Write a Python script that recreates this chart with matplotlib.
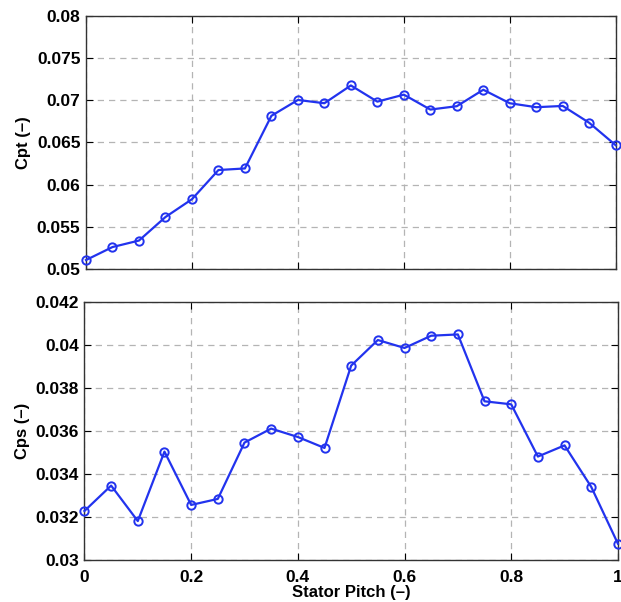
import matplotlib
matplotlib.use('Agg')
import matplotlib.pyplot as plt
import numpy as np

# stator pitch positions and the two pressure coefficients
pitch = [0.0, 0.05, 0.1, 0.15, 0.2, 0.25, 0.3, 0.35, 0.4, 0.45, 0.5,
         0.55, 0.6, 0.65, 0.7, 0.75, 0.8, 0.85, 0.9, 0.95, 1.0]
cpt = [0.05106, 0.0526, 0.05337, 0.05616, 0.05827, 0.06173, 0.06192,
       0.06816, 0.07004, 0.06965, 0.07176, 0.06984, 0.07067, 0.0689,
       0.0693, 0.07125, 0.06965, 0.06918, 0.06933, 0.06733, 0.06467]
cps = [0.03228, 0.03346, 0.03181, 0.03504, 0.03256, 0.03284, 0.03546,
       0.03611, 0.03572, 0.03521, 0.03904, 0.04023, 0.03986, 0.04043,
       0.04049, 0.03738, 0.03724, 0.03481, 0.03533, 0.0334, 0.03076]

cpt_ticks = [0.05, 0.055, 0.06, 0.065, 0.07, 0.075, 0.08]
cpt_labels = ['0.05', '0.055', '0.06', '0.065', '0.07', '0.075', '0.08']
cps_ticks = [0.03, 0.032, 0.034, 0.036, 0.038, 0.04, 0.042]
cps_labels = ['0.03', '0.032', '0.034', '0.036', '0.038', '0.04', '0.042']
x_ticks = [0, 0.2, 0.4, 0.6, 0.8, 1]
x_labels = ['0', '0.2', '0.4', '0.6', '0.8', '1']

plt.rcParams['font.family'] = ['Liberation Sans', 'DejaVu Sans']
plt.rcParams['font.weight'] = 'bold'

fig = plt.figure(figsize=(6.21, 6.02), dpi=100)
ax1 = fig.add_axes([0.1385, 0.5532, 0.853, 0.4203])
ax2 = fig.add_axes([0.1360, 0.0698, 0.8590, 0.4286])

line_kw = dict(color='#2233ee', lw=1.6, marker='o', ms=6,
               mfc='none', mec='#2233ee', mew=1.4)

def style(ax, yt, yl):
    ax.set_xlim(0, 1)
    ax.set_xticks(x_ticks)
    ax.set_yticks(yt)
    ax.set_yticklabels(yl)
    ax.set_ylim(yt[0], yt[-1])
    ax.grid(True, ls=(0, (5, 4)), color='#b4b4b4', lw=0.9)
    ax.tick_params(direction='in', top=True, right=True, length=5,
                   width=0.8, labelsize=12.5, pad=4)
    ax.tick_params(axis='x', pad=7)
    for lab in ax.get_yticklabels() + ax.get_xticklabels():
        lab.set_fontweight('bold')
    for sp in ax.spines.values():
        sp.set_linewidth(1.0)
        sp.set_color('#333333')

ax1.plot(pitch, cpt, clip_on=False, zorder=5, **line_kw)
style(ax1, cpt_ticks, cpt_labels)
ax1.tick_params(labelbottom=False)
ax1.set_ylabel('Cpt (–)', fontsize=12, fontweight='bold', labelpad=4)

ax2.plot(pitch, cps, clip_on=False, zorder=5, **line_kw)
style(ax2, cps_ticks, cps_labels)
ax2.set_xticklabels(x_labels)
ax2.set_ylabel('Cps (–)', fontsize=12, fontweight='bold', labelpad=4)
ax2.set_xlabel('Stator Pitch (–)', fontsize=12, fontweight='bold', labelpad=0)

fig.savefig('out.png', dpi=100)
